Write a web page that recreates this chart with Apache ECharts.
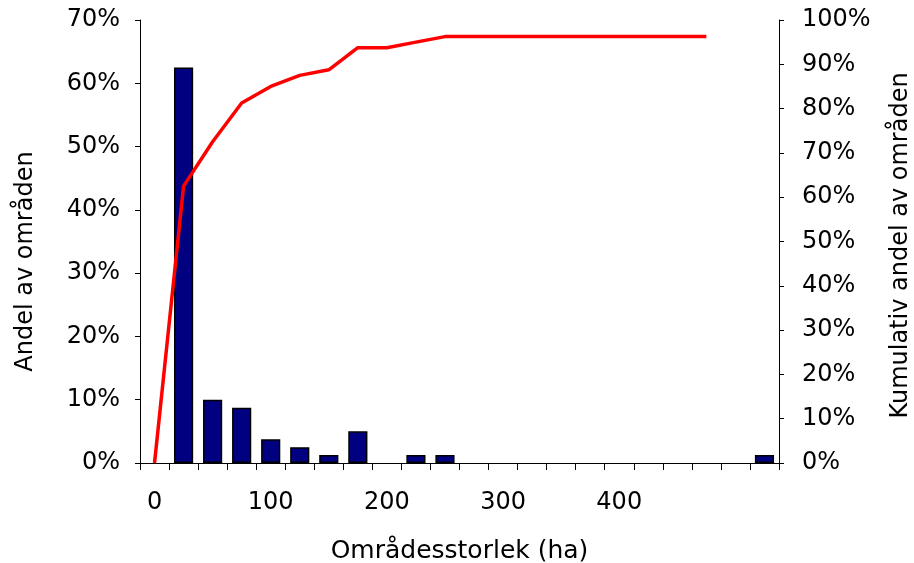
<!DOCTYPE html>
<html>
<head>
<meta charset="utf-8">
<script src="https://cdn.jsdelivr.net/npm/echarts@6/dist/echarts.min.js"></script>
<style>html,body{margin:0;padding:0;background:#fff}#c{width:914px;height:563px}</style>
</head>
<body>
<div id="c"></div>
<script>
// Category bins (25 ha each) and the tick labels shown on the x axis
const xLabels = ['0','','','','100','','','','200','','','','300','','','','400','','','','',''];
// Share of areas per size class (%)
const shareValues = [0, 62.5, 10, 8.75, 3.75, 2.5, 1.25, 5, 0, 1.25, 1.25, 0, 0, 0, 0, 0, 0, 0, 0, 0, 0, 1.25];
// Cumulative share of areas (%)
const cumulativeValues = [0, 62.5, 72.5, 81.25, 85, 87.5, 88.75, 93.75, 93.75, 95, 96.25, 96.25, 96.25, 96.25, 96.25, 96.25, 96.25, 96.25, 96.25, 96.25, null, null];
const leftTitle = 'Andel av områden';
const rightTitle = 'Kumulativ andel av områden';
const xTitle = 'Områdesstorlek (ha)';

const FONT = 'DejaVu Sans';
const chart = echarts.init(document.getElementById('c'), null, {renderer: 'canvas'});
chart.setOption({
  animation: false,
  backgroundColor: '#fff',
  grid: {left: 140, right: 135, top: 20, bottom: 100, containLabel: false, outerBoundsMode: 'none'},
  xAxis: {
    type: 'category',
    data: xLabels,
    boundaryGap: true,
    axisLine: {lineStyle: {color: '#000', width: 1}},
    axisTick: {show: true, interval: 0, length: 7, lineStyle: {color: '#000'}},
    axisLabel: {interval: 0, margin: 28, color: '#000', fontFamily: FONT, fontSize: 24},
    name: xTitle,
    nameLocation: 'middle',
    nameGap: 76,
    nameTextStyle: {color: '#000', fontFamily: FONT, fontSize: 25}
  },
  yAxis: [
    {
      type: 'value', min: 0, max: 70, interval: 10,
      axisLine: {show: true, lineStyle: {color: '#000'}},
      axisTick: {show: true, length: 5, lineStyle: {color: '#000'}},
      splitLine: {show: false},
      axisLabel: {formatter: '{value}%', margin: 20, color: '#000', fontFamily: FONT, fontSize: 24},
      name: leftTitle,
      nameLocation: 'middle',
      nameRotate: 90,
      nameGap: 102,
      nameTextStyle: {color: '#000', fontFamily: FONT, fontSize: 24, padding: [0, 40, 0, 0]}
    },
    {
      type: 'value', min: 0, max: 100, interval: 10,
      position: 'right',
      axisLine: {show: true, lineStyle: {color: '#000'}},
      axisTick: {show: true, length: 5, lineStyle: {color: '#000'}},
      splitLine: {show: false},
      axisLabel: {formatter: '{value}%', margin: 23, color: '#000', fontFamily: FONT, fontSize: 24},
      name: rightTitle,
      nameLocation: 'middle',
      nameRotate: 90,
      nameGap: 110,
      nameTextStyle: {color: '#000', fontFamily: FONT, fontSize: 24, padding: [0, 8, 0, 0]}
    }
  ],
  series: [
    {
      type: 'bar',
      data: shareValues.map(v => (v === 0 ? null : v)),
      yAxisIndex: 0,
      barCategoryGap: '34%',
      itemStyle: {color: '#000080', borderColor: '#000', borderWidth: 1.5},
      z: 2
    },
    {
      type: 'line',
      data: cumulativeValues,
      yAxisIndex: 1,
      symbol: 'none',
      lineStyle: {color: '#ff0000', width: 3.5},
      z: 3
    }
  ]
});
</script>
</body>
</html>
